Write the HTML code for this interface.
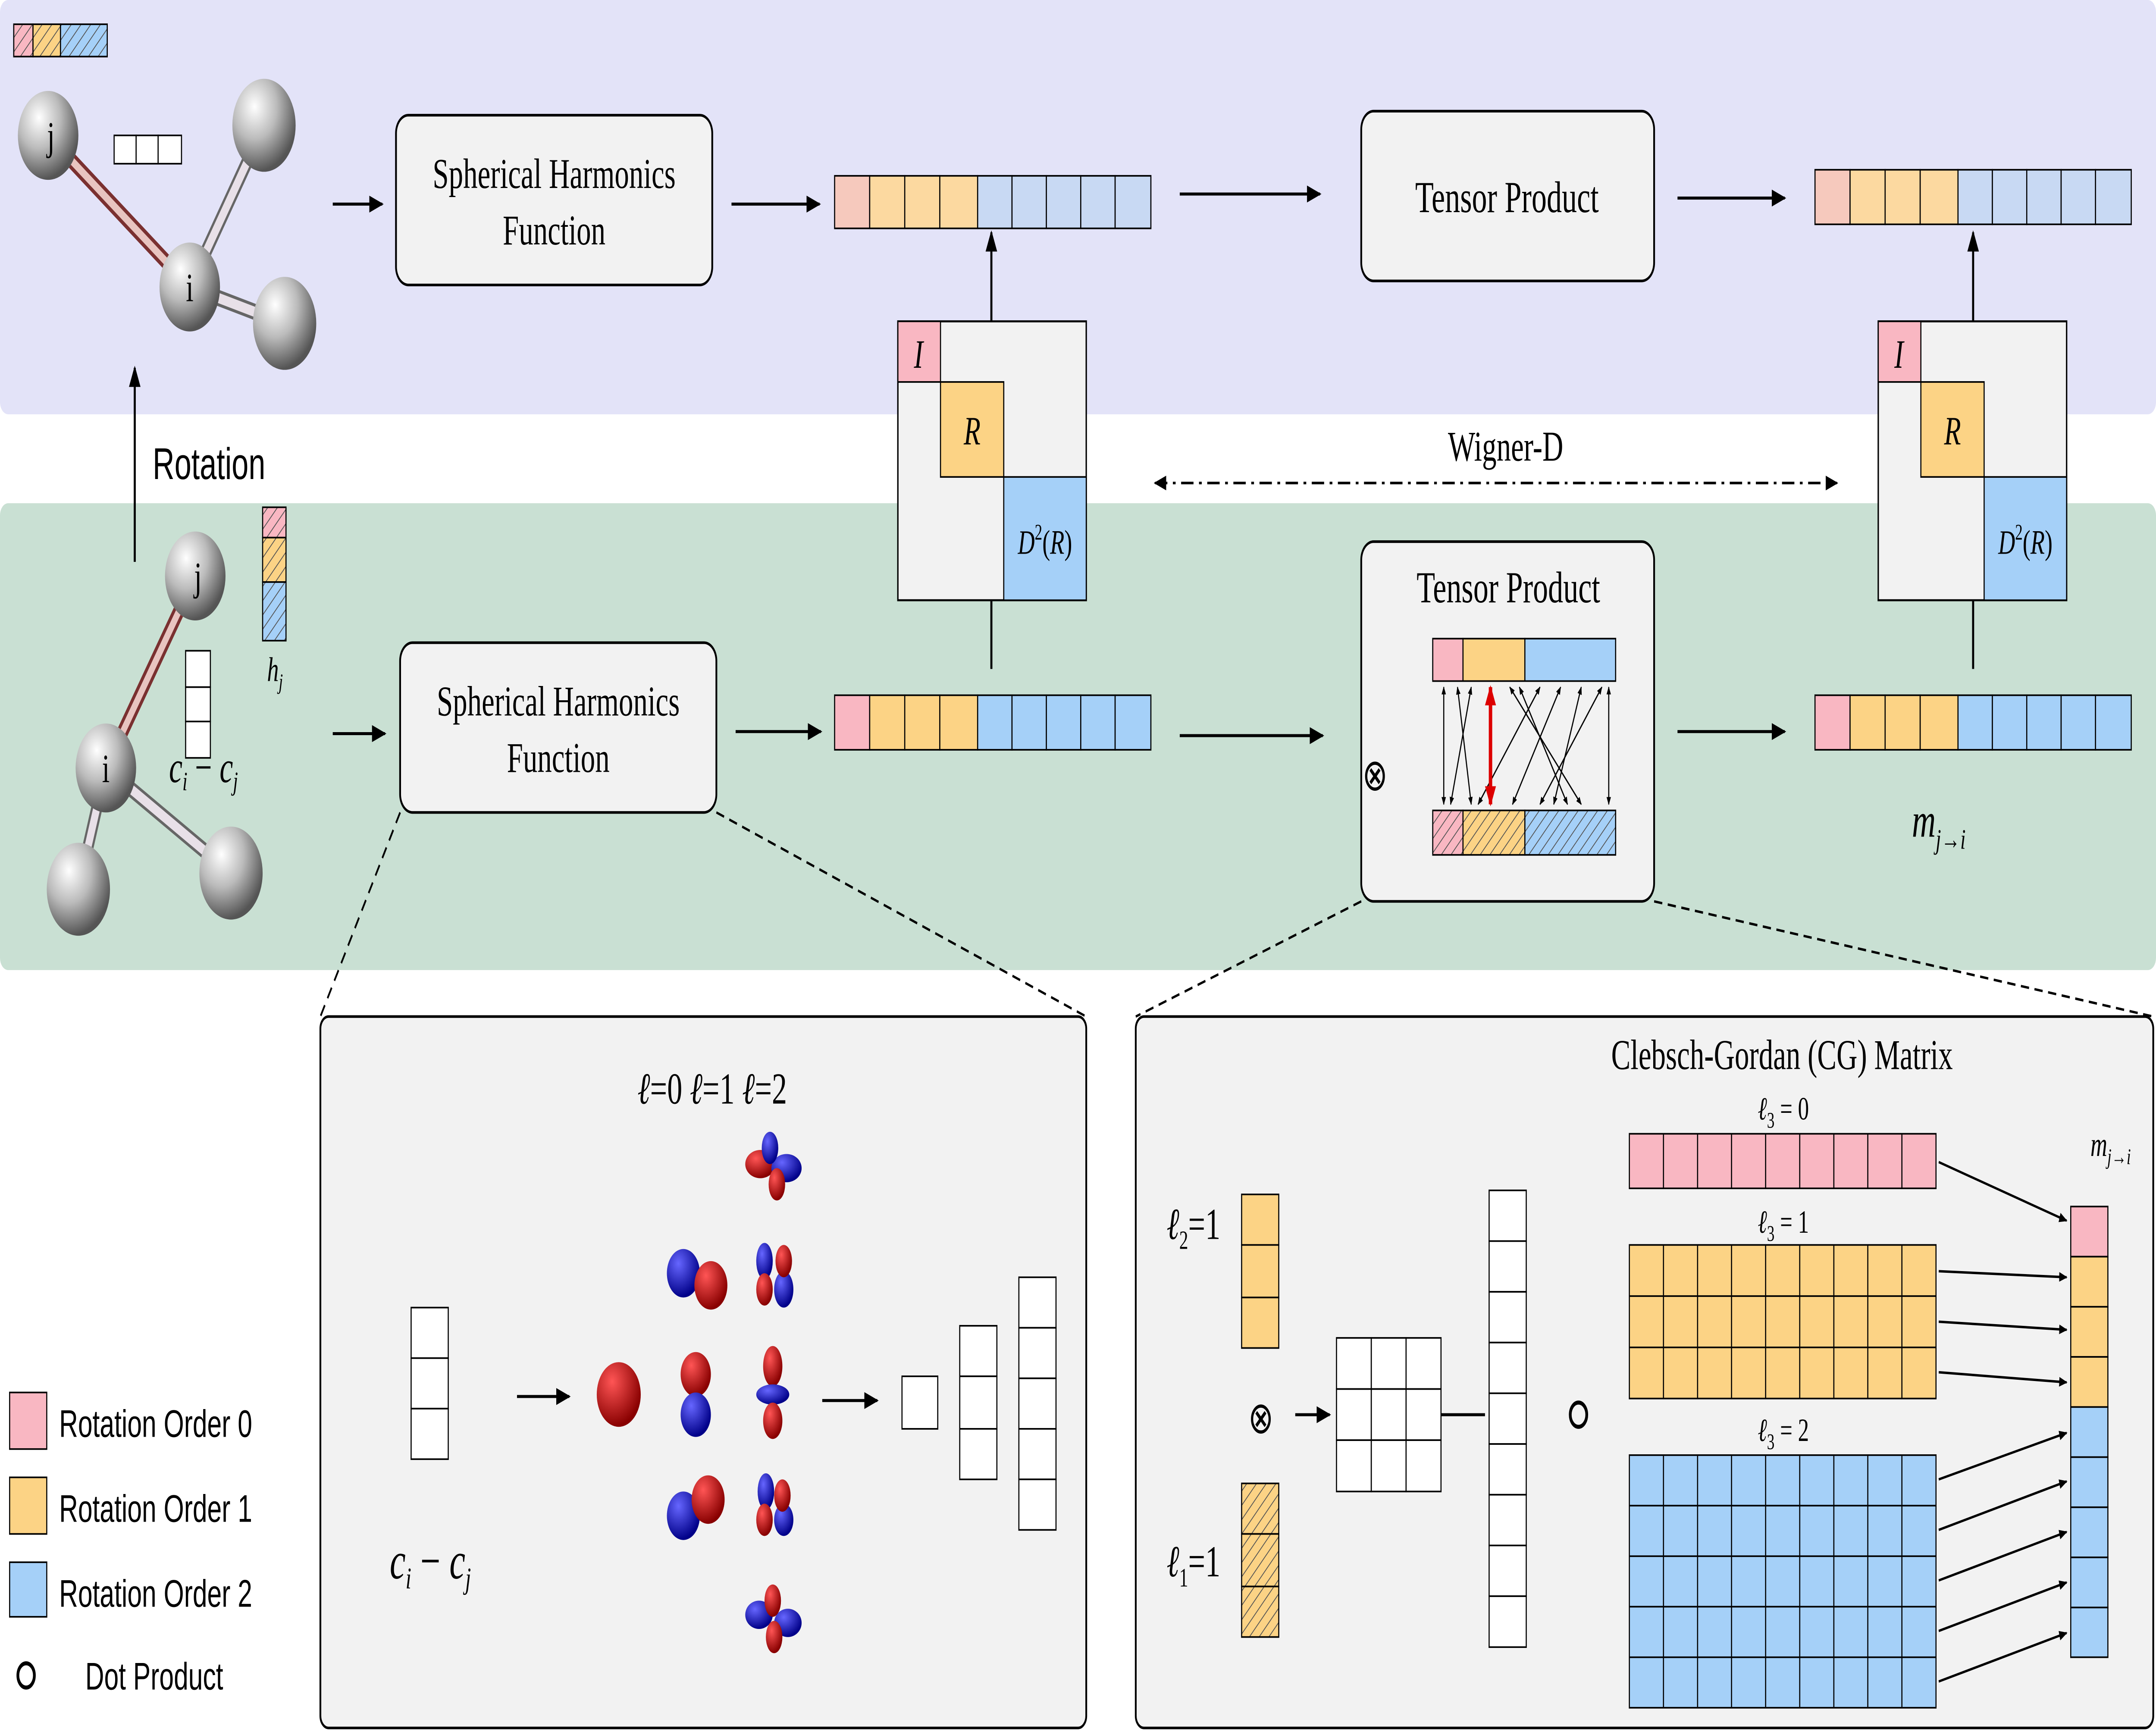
<!DOCTYPE html>
<html><head><meta charset="utf-8"><style>
html,body{margin:0;padding:0;background:#fff;width:100vw;height:100vh;overflow:hidden;}
svg{display:block;width:100vw;height:100vh;}
text{font-family:"Liberation Serif",serif;}
.s{font-family:"Liberation Sans",sans-serif;}
</style></head><body>
<svg viewBox="0 0 1568 857" preserveAspectRatio="none" xmlns="http://www.w3.org/2000/svg">
<defs>
<marker id="ah" viewBox="0 0 10 10" refX="9" refY="5" markerWidth="7" markerHeight="7" orient="auto-start-reverse"><path d="M0,1 L10,5 L0,9 z" fill="#000"/></marker>
<marker id="sm" viewBox="0 0 10 10" refX="9" refY="5" markerWidth="5" markerHeight="5" orient="auto-start-reverse"><path d="M0,1 L10,5 L0,9 z" fill="#000"/></marker>
<marker id="rd" viewBox="0 0 10 10" refX="9" refY="5" markerWidth="4" markerHeight="4" orient="auto-start-reverse"><path d="M0,1 L10,5 L0,9 z" fill="#d00"/></marker>
<pattern id="hp" width="5" height="5" patternUnits="userSpaceOnUse" patternTransform="rotate(45)"><rect width="5" height="5" fill="#f9b7c2"/><line x1="0" y1="0" x2="0" y2="5" stroke="#555" stroke-width="1"/></pattern>
<pattern id="ho" width="5" height="5" patternUnits="userSpaceOnUse" patternTransform="rotate(45)"><rect width="5" height="5" fill="#fcd385"/><line x1="0" y1="0" x2="0" y2="5" stroke="#555" stroke-width="1"/></pattern>
<pattern id="hb" width="5" height="5" patternUnits="userSpaceOnUse" patternTransform="rotate(45)"><rect width="5" height="5" fill="#a5d0f8"/><line x1="0" y1="0" x2="0" y2="5" stroke="#555" stroke-width="1"/></pattern>
<radialGradient id="atom" cx="0.35" cy="0.3" r="0.7"><stop offset="0" stop-color="#fff"/><stop offset="0.5" stop-color="#bbb"/><stop offset="1" stop-color="#555"/></radialGradient>
<radialGradient id="red" cx="0.35" cy="0.3" r="0.7"><stop offset="0" stop-color="#f55"/><stop offset="1" stop-color="#800"/></radialGradient>
<radialGradient id="blu" cx="0.35" cy="0.3" r="0.7"><stop offset="0" stop-color="#66f"/><stop offset="1" stop-color="#008"/></radialGradient>
</defs>

<rect x="0" y="0" width="1568" height="205" fill="#e3e3f8" rx="6"/>
<rect x="0" y="249" width="1568" height="231" fill="#c9e0d3" rx="6"/>

<line x1="35" y1="67" x2="138" y2="142" stroke="#7a3030" stroke-width="8"/>
<line x1="35" y1="67" x2="138" y2="142" stroke="#e8c4c0" stroke-width="4"/>
<line x1="138" y1="142" x2="192" y2="62" stroke="#666" stroke-width="8"/>
<line x1="138" y1="142" x2="192" y2="62" stroke="#e8e0e8" stroke-width="5"/>
<line x1="138" y1="142" x2="207" y2="160" stroke="#666" stroke-width="8"/>
<line x1="138" y1="142" x2="207" y2="160" stroke="#e8e0e8" stroke-width="5"/>
<circle cx="192" cy="62" r="23" fill="url(#atom)"/>
<circle cx="207" cy="160" r="23" fill="url(#atom)"/>
<circle cx="35" cy="67" r="22" fill="url(#atom)"/>
<circle cx="138" cy="142" r="22" fill="url(#atom)"/>
<text x="37" y="74" font-size="20" text-anchor="middle">j</text>
<text x="138" y="149" font-size="20" text-anchor="middle">i</text>
<rect x="10" y="12" width="14" height="16" fill="url(#hp)" stroke="#000" stroke-width="0.8"/>
<rect x="24" y="12" width="20" height="16" fill="url(#ho)" stroke="#000" stroke-width="0.8"/>
<rect x="44" y="12" width="34" height="16" fill="url(#hb)" stroke="#000" stroke-width="0.8"/>
<g fill="#fff" stroke="#000" stroke-width="0.8"><rect x="83" y="67" width="16" height="14"/><rect x="99" y="67" width="16" height="14"/><rect x="115" y="67" width="17" height="14"/></g>

<line x1="242" y1="101" x2="278" y2="101" stroke="#000" stroke-width="1.5" marker-end="url(#ah)"/>
<rect x="288" y="57" width="230" height="84" rx="9" fill="#f2f2f2" stroke="#000" stroke-width="1.3"/>
<text x="403" y="93" font-size="21" text-anchor="middle">Spherical Harmonics</text>
<text x="403" y="121" font-size="21" text-anchor="middle">Function</text>
<line x1="532" y1="101" x2="596" y2="101" stroke="#000" stroke-width="1.5" marker-end="url(#ah)"/>
<g stroke="#000" stroke-width="0.8">
<rect x="607" y="87" width="25.5" height="26" fill="#f6c9bd"/>
<rect x="632.5" y="87" width="25.5" height="26" fill="#fcd9a0"/><rect x="658" y="87" width="25.5" height="26" fill="#fcd9a0"/><rect x="683.5" y="87" width="27.5" height="26" fill="#fcd9a0"/>
<rect x="711" y="87" width="25" height="26" fill="#c8d9f3"/><rect x="736" y="87" width="25" height="26" fill="#c8d9f3"/><rect x="761" y="87" width="25" height="26" fill="#c8d9f3"/><rect x="786" y="87" width="25" height="26" fill="#c8d9f3"/><rect x="811" y="87" width="26" height="26" fill="#c8d9f3"/>
</g>
<line x1="858" y1="96" x2="960" y2="96" stroke="#000" stroke-width="1.5" marker-end="url(#ah)"/>
<rect x="990" y="55" width="213" height="84" rx="9" fill="#f2f2f2" stroke="#000" stroke-width="1.3"/>
<text x="1096" y="105" font-size="22" text-anchor="middle">Tensor Product</text>
<line x1="1220" y1="98" x2="1298" y2="98" stroke="#000" stroke-width="1.5" marker-end="url(#ah)"/>
<g stroke="#000" stroke-width="0.8">
<rect x="1320" y="84" width="25.5" height="27" fill="#f6c9bd"/>
<rect x="1345.5" y="84" width="25.5" height="27" fill="#fcd9a0"/><rect x="1371" y="84" width="25.5" height="27" fill="#fcd9a0"/><rect x="1396.5" y="84" width="27.5" height="27" fill="#fcd9a0"/>
<rect x="1424" y="84" width="25" height="27" fill="#c8d9f3"/><rect x="1449" y="84" width="25" height="27" fill="#c8d9f3"/><rect x="1474" y="84" width="25" height="27" fill="#c8d9f3"/><rect x="1499" y="84" width="25" height="27" fill="#c8d9f3"/><rect x="1524" y="84" width="26" height="27" fill="#c8d9f3"/>
</g>

<g>
<rect x="653" y="159" width="137" height="138" fill="#f2f2f2" stroke="#000" stroke-width="1"/>
<rect x="653" y="159" width="31" height="30" fill="#f9b7c2" stroke="#000" stroke-width="0.8"/>
<rect x="684" y="189" width="46" height="47" fill="#fcd385" stroke="#000" stroke-width="0.8"/>
<rect x="730" y="236" width="60" height="61" fill="#a5d0f8" stroke="#000" stroke-width="0.8"/>
<text x="668" y="182" font-size="20" font-style="italic" text-anchor="middle">I</text>
<text x="707" y="220" font-size="20" font-style="italic" text-anchor="middle">R</text>
<text x="760" y="274" font-size="17" text-anchor="middle"><tspan font-style="italic">D</tspan><tspan font-size="11" dy="-7">2</tspan><tspan dy="7">(</tspan><tspan font-style="italic">R</tspan>)</text>
</g>
<line x1="721" y1="159" x2="721" y2="115" stroke="#000" stroke-width="1.5" marker-end="url(#ah)"/>
<line x1="721" y1="297" x2="721" y2="331" stroke="#000" stroke-width="1.5"/>
<g>
<rect x="1366" y="159" width="137" height="138" fill="#f2f2f2" stroke="#000" stroke-width="1"/>
<rect x="1366" y="159" width="31" height="30" fill="#f9b7c2" stroke="#000" stroke-width="0.8"/>
<rect x="1397" y="189" width="46" height="47" fill="#fcd385" stroke="#000" stroke-width="0.8"/>
<rect x="1443" y="236" width="60" height="61" fill="#a5d0f8" stroke="#000" stroke-width="0.8"/>
<text x="1381" y="182" font-size="20" font-style="italic" text-anchor="middle">I</text>
<text x="1420" y="220" font-size="20" font-style="italic" text-anchor="middle">R</text>
<text x="1473" y="274" font-size="17" text-anchor="middle"><tspan font-style="italic">D</tspan><tspan font-size="11" dy="-7">2</tspan><tspan dy="7">(</tspan><tspan font-style="italic">R</tspan>)</text>
</g>
<line x1="1435" y1="159" x2="1435" y2="115" stroke="#000" stroke-width="1.5" marker-end="url(#ah)"/>
<line x1="1435" y1="297" x2="1435" y2="331" stroke="#000" stroke-width="1.5"/>

<line x1="840" y1="239" x2="1336" y2="239" stroke="#000" stroke-width="1.3" stroke-dasharray="9,4,2,4" marker-start="url(#ah)" marker-end="url(#ah)"/>
<text x="1095" y="228" font-size="21" text-anchor="middle">Wigner-D</text>

<line x1="98" y1="278" x2="98" y2="182" stroke="#000" stroke-width="1.5" marker-end="url(#ah)"/>
<text x="152" y="237" font-size="22" class="s" text-anchor="middle">Rotation</text>

<line x1="142" y1="285" x2="77" y2="380" stroke="#7a3030" stroke-width="8"/>
<line x1="142" y1="285" x2="77" y2="380" stroke="#e8c4c0" stroke-width="4"/>
<line x1="77" y1="380" x2="57" y2="440" stroke="#666" stroke-width="8"/>
<line x1="77" y1="380" x2="57" y2="440" stroke="#e8e0e8" stroke-width="5"/>
<line x1="77" y1="380" x2="168" y2="432" stroke="#666" stroke-width="8"/>
<line x1="77" y1="380" x2="168" y2="432" stroke="#e8e0e8" stroke-width="5"/>
<circle cx="57" cy="440" r="23" fill="url(#atom)"/>
<circle cx="168" cy="432" r="23" fill="url(#atom)"/>
<circle cx="142" cy="285" r="22" fill="url(#atom)"/>
<circle cx="77" cy="380" r="22" fill="url(#atom)"/>
<text x="144" y="292" font-size="20" text-anchor="middle">j</text>
<text x="77" y="387" font-size="20" text-anchor="middle">i</text>
<rect x="191" y="251" width="17" height="15" fill="url(#hp)" stroke="#000" stroke-width="0.8"/>
<rect x="191" y="266" width="17" height="22" fill="url(#ho)" stroke="#000" stroke-width="0.8"/>
<rect x="191" y="288" width="17" height="29" fill="url(#hb)" stroke="#000" stroke-width="0.8"/>
<text x="200" y="337" font-size="17" font-style="italic" text-anchor="middle">h<tspan font-size="11" dy="4">j</tspan></text>
<g fill="#fff" stroke="#000" stroke-width="0.8"><rect x="135" y="322" width="18" height="18"/><rect x="135" y="340" width="18" height="17"/><rect x="135" y="357" width="18" height="18"/></g>
<text x="148" y="387" font-size="22" font-style="italic" text-anchor="middle">c<tspan font-size="13" dy="4">i</tspan><tspan dy="-4" font-style="normal"> − </tspan>c<tspan font-size="13" dy="4">j</tspan></text>

<line x1="242" y1="363" x2="280" y2="363" stroke="#000" stroke-width="1.5" marker-end="url(#ah)"/>
<rect x="291" y="318" width="230" height="84" rx="9" fill="#f2f2f2" stroke="#000" stroke-width="1.3"/>
<text x="406" y="354" font-size="21" text-anchor="middle">Spherical Harmonics</text>
<text x="406" y="382" font-size="21" text-anchor="middle">Function</text>
<line x1="535" y1="362" x2="597" y2="362" stroke="#000" stroke-width="1.5" marker-end="url(#ah)"/>
<g stroke="#000" stroke-width="0.8">
<rect x="607" y="344" width="25.5" height="27" fill="#f9b7c2"/>
<rect x="632.5" y="344" width="25.5" height="27" fill="#fcd385"/><rect x="658" y="344" width="25.5" height="27" fill="#fcd385"/><rect x="683.5" y="344" width="27.5" height="27" fill="#fcd385"/>
<rect x="711" y="344" width="25" height="27" fill="#a5d0f8"/><rect x="736" y="344" width="25" height="27" fill="#a5d0f8"/><rect x="761" y="344" width="25" height="27" fill="#a5d0f8"/><rect x="786" y="344" width="25" height="27" fill="#a5d0f8"/><rect x="811" y="344" width="26" height="27" fill="#a5d0f8"/>
</g>
<line x1="858" y1="364" x2="962" y2="364" stroke="#000" stroke-width="1.5" marker-end="url(#ah)"/>
<rect x="990" y="268" width="213" height="178" rx="9" fill="#f2f2f2" stroke="#000" stroke-width="1.3"/>
<text x="1097" y="298" font-size="22" text-anchor="middle">Tensor Product</text>
<g stroke="#000" stroke-width="0.8">
<rect x="1042" y="316" width="22" height="21" fill="#f9b7c2"/>
<rect x="1064" y="316" width="45" height="21" fill="#fcd385"/>
<rect x="1109" y="316" width="66" height="21" fill="#a5d0f8"/>
<rect x="1042" y="401" width="22" height="22" fill="url(#hp)"/>
<rect x="1064" y="401" width="45" height="22" fill="url(#ho)"/>
<rect x="1109" y="401" width="66" height="22" fill="url(#hb)"/>
</g>
<text x="1000" y="391" font-size="22" text-anchor="middle" font-family="DejaVu Sans">⊗</text>
<g stroke="#000" stroke-width="0.8" marker-start="url(#sm)" marker-end="url(#sm)">
<line x1="1050" y1="340" x2="1050" y2="398"/>
<line x1="1060" y1="340" x2="1070" y2="398"/>
<line x1="1070" y1="340" x2="1055" y2="398"/>
<line x1="1098" y1="340" x2="1150" y2="398"/>
<line x1="1120" y1="340" x2="1075" y2="398"/>
<line x1="1135" y1="340" x2="1100" y2="398"/>
<line x1="1150" y1="340" x2="1130" y2="398"/>
<line x1="1165" y1="340" x2="1120" y2="398"/>
<line x1="1105" y1="340" x2="1140" y2="398"/>
<line x1="1170" y1="340" x2="1170" y2="398"/>
</g>
<line x1="1084" y1="340" x2="1084" y2="398" stroke="#d00" stroke-width="2.5" marker-start="url(#rd)" marker-end="url(#rd)"/>
<line x1="1220" y1="362" x2="1298" y2="362" stroke="#000" stroke-width="1.5" marker-end="url(#ah)"/>
<g stroke="#000" stroke-width="0.8">
<rect x="1320" y="344" width="25.5" height="27" fill="#f9b7c2"/>
<rect x="1345.5" y="344" width="25.5" height="27" fill="#fcd385"/><rect x="1371" y="344" width="25.5" height="27" fill="#fcd385"/><rect x="1396.5" y="344" width="27.5" height="27" fill="#fcd385"/>
<rect x="1424" y="344" width="25" height="27" fill="#a5d0f8"/><rect x="1449" y="344" width="25" height="27" fill="#a5d0f8"/><rect x="1474" y="344" width="25" height="27" fill="#a5d0f8"/><rect x="1499" y="344" width="25" height="27" fill="#a5d0f8"/><rect x="1524" y="344" width="26" height="27" fill="#a5d0f8"/>
</g>
<text x="1410" y="414" font-size="24" font-style="italic" text-anchor="middle">m<tspan font-size="14" dy="6">j→i</tspan></text>

<g stroke="#000" stroke-width="1.2" stroke-dasharray="6,4">
<line x1="291" y1="402" x2="233" y2="503"/>
<line x1="521" y1="402" x2="790" y2="503"/>
<line x1="990" y1="446" x2="826" y2="503"/>
<line x1="1203" y1="446" x2="1566" y2="503"/>
</g>

<rect x="7" y="689" width="27" height="28" fill="#f9b7c2" stroke="#000" stroke-width="0.8"/>
<rect x="7" y="731" width="27" height="28" fill="#fcd385" stroke="#000" stroke-width="0.8"/>
<rect x="7" y="773" width="27" height="27" fill="#a5d0f8" stroke="#000" stroke-width="0.8"/>
<circle cx="19" cy="829" r="6" fill="none" stroke="#000" stroke-width="2"/>
<g font-size="19"><text x="43" y="711" class="s">Rotation Order 0</text><text x="43" y="753" class="s">Rotation Order 1</text><text x="43" y="795" class="s">Rotation Order 2</text><text x="62" y="836" class="s">Dot Product</text></g>

<rect x="233" y="503" width="557" height="352" rx="6" fill="#f2f2f2" stroke="#000" stroke-width="1.3"/>
<text x="518" y="546" font-size="22" text-anchor="middle"><tspan font-style="italic">ℓ</tspan>=0 <tspan font-style="italic">ℓ</tspan>=1 <tspan font-style="italic">ℓ</tspan>=2</text>
<g fill="#fff" stroke="#000" stroke-width="0.8"><rect x="299" y="647" width="27" height="25"/><rect x="299" y="672" width="27" height="25"/><rect x="299" y="697" width="27" height="25"/></g>
<text x="313" y="781" font-size="26" font-style="italic" text-anchor="middle">c<tspan font-size="15" dy="5">i</tspan><tspan dy="-5" font-style="normal"> − </tspan>c<tspan font-size="15" dy="5">j</tspan></text>
<line x1="376" y1="691" x2="414" y2="691" stroke="#000" stroke-width="1.5" marker-end="url(#ah)"/>
<circle cx="450" cy="690" r="16" fill="url(#red)"/>
<circle cx="497" cy="630" r="12" fill="url(#blu)"/><circle cx="517" cy="636" r="12" fill="url(#red)"/>
<circle cx="506" cy="680" r="11" fill="url(#red)"/><circle cx="506" cy="700" r="11" fill="url(#blu)"/>
<circle cx="497" cy="750" r="12" fill="url(#blu)"/><circle cx="515" cy="742" r="12" fill="url(#red)"/>
<g>
<ellipse cx="553" cy="576" rx="11" ry="7" fill="url(#red)"/><ellipse cx="572" cy="578" rx="11" ry="7" fill="url(#blu)"/><ellipse cx="560" cy="568" rx="6" ry="8" fill="url(#blu)"/><ellipse cx="565" cy="586" rx="6" ry="8" fill="url(#red)"/>
<ellipse cx="556" cy="624" rx="6" ry="9" fill="url(#blu)"/><ellipse cx="570" cy="638" rx="7" ry="9" fill="url(#blu)"/><ellipse cx="556" cy="638" rx="6" ry="8" fill="url(#red)"/><ellipse cx="570" cy="624" rx="6" ry="8" fill="url(#red)"/>
<ellipse cx="562" cy="676" rx="7" ry="10" fill="url(#red)"/><ellipse cx="562" cy="690" rx="12" ry="5" fill="url(#blu)"/><ellipse cx="562" cy="703" rx="7" ry="9" fill="url(#red)"/>
<ellipse cx="557" cy="738" rx="6" ry="9" fill="url(#blu)"/><ellipse cx="570" cy="752" rx="7" ry="8" fill="url(#blu)"/><ellipse cx="556" cy="752" rx="6" ry="8" fill="url(#red)"/><ellipse cx="569" cy="740" rx="6" ry="8" fill="url(#red)"/>
<ellipse cx="552" cy="799" rx="10" ry="7" fill="url(#blu)"/><ellipse cx="573" cy="803" rx="10" ry="7" fill="url(#blu)"/><ellipse cx="562" cy="792" rx="6" ry="8" fill="url(#red)"/><ellipse cx="563" cy="810" rx="6" ry="8" fill="url(#red)"/>
</g>
<line x1="598" y1="693" x2="638" y2="693" stroke="#000" stroke-width="1.5" marker-end="url(#ah)"/>
<g fill="#fff" stroke="#000" stroke-width="0.8">
<rect x="656" y="681" width="26" height="26"/>
<rect x="698" y="656" width="27" height="25"/><rect x="698" y="681" width="27" height="26"/><rect x="698" y="707" width="27" height="25"/>
<rect x="741" y="632" width="27" height="25"/><rect x="741" y="657" width="27" height="25"/><rect x="741" y="682" width="27" height="25"/><rect x="741" y="707" width="27" height="25"/><rect x="741" y="732" width="27" height="25"/>
</g>

<rect x="826" y="503" width="740" height="352" rx="6" fill="#f2f2f2" stroke="#000" stroke-width="1.3"/>
<text x="1296" y="529" font-size="21" text-anchor="middle">Clebsch-Gordan (CG) Matrix</text>
<text x="868" y="613" font-size="22" text-anchor="middle"><tspan font-style="italic">ℓ</tspan><tspan font-size="13" dy="5">2</tspan><tspan dy="-5">=1</tspan></text>
<g stroke="#000" stroke-width="0.8" fill="#fcd385"><rect x="903" y="591" width="27" height="25"/><rect x="903" y="616" width="27" height="26"/><rect x="903" y="642" width="27" height="25"/></g>
<text x="917" y="709" font-size="22" text-anchor="middle" font-family="DejaVu Sans">⊗</text>
<text x="868" y="780" font-size="22" text-anchor="middle"><tspan font-style="italic">ℓ</tspan><tspan font-size="13" dy="5">1</tspan><tspan dy="-5">=1</tspan></text>
<g stroke="#000" stroke-width="0.8" fill="url(#ho)"><rect x="903" y="734" width="27" height="25"/><rect x="903" y="759" width="27" height="26"/><rect x="903" y="785" width="27" height="25"/></g>
<line x1="942" y1="700" x2="967" y2="700" stroke="#000" stroke-width="1.5" marker-end="url(#ah)"/>
<g fill="#fff" stroke="#000" stroke-width="0.8">
<rect x="972" y="662" width="25.3" height="25.3"/><rect x="997.3" y="662" width="25.3" height="25.3"/><rect x="1022.6" y="662" width="25.4" height="25.3"/>
<rect x="972" y="687.3" width="25.3" height="25.3"/><rect x="997.3" y="687.3" width="25.3" height="25.3"/><rect x="1022.6" y="687.3" width="25.4" height="25.3"/>
<rect x="972" y="712.6" width="25.3" height="25.4"/><rect x="997.3" y="712.6" width="25.3" height="25.4"/><rect x="1022.6" y="712.6" width="25.4" height="25.4"/>
</g>
<line x1="1048" y1="700" x2="1080" y2="700" stroke="#000" stroke-width="1.5"/>
<g fill="#fff" stroke="#000" stroke-width="0.8">
<rect x="1083" y="589" width="27" height="25.1"/><rect x="1083" y="614.1" width="27" height="25.1"/><rect x="1083" y="639.2" width="27" height="25.1"/><rect x="1083" y="664.3" width="27" height="25.1"/><rect x="1083" y="689.4" width="27" height="25.1"/><rect x="1083" y="714.5" width="27" height="25.1"/><rect x="1083" y="739.6" width="27" height="25.1"/><rect x="1083" y="764.7" width="27" height="25.1"/><rect x="1083" y="789.8" width="27" height="25.2"/>
</g>
<circle cx="1148" cy="700" r="6" fill="none" stroke="#000" stroke-width="2"/>
<text x="1297" y="554" font-size="16" text-anchor="middle"><tspan font-style="italic">ℓ</tspan><tspan font-size="11" dy="4">3</tspan><tspan dy="-4"> = 0</tspan></text>
<text x="1297" y="610" font-size="16" text-anchor="middle"><tspan font-style="italic">ℓ</tspan><tspan font-size="11" dy="4">3</tspan><tspan dy="-4"> = 1</tspan></text>
<text x="1297" y="713" font-size="16" text-anchor="middle"><tspan font-style="italic">ℓ</tspan><tspan font-size="11" dy="4">3</tspan><tspan dy="-4"> = 2</tspan></text>
<rect x="1185" y="561" width="223" height="27" fill="#f9b7c2" stroke="#000" stroke-width="0.8"/>
<rect x="1185" y="616" width="223" height="76" fill="#fcd385" stroke="#000" stroke-width="0.8"/>
<rect x="1185" y="720" width="223" height="125" fill="#a5d0f8" stroke="#000" stroke-width="0.8"/>
<g stroke="#000" stroke-width="0.8">
<path d="M1209.8 561V588M1234.6 561V588M1259.3 561V588M1284.1 561V588M1308.9 561V588M1333.7 561V588M1358.4 561V588M1383.2 561V588"/>
<path d="M1209.8 616V692M1234.6 616V692M1259.3 616V692M1284.1 616V692M1308.9 616V692M1333.7 616V692M1358.4 616V692M1383.2 616V692M1185 641.3H1408M1185 666.7H1408"/>
<path d="M1209.8 720V845M1234.6 720V845M1259.3 720V845M1284.1 720V845M1308.9 720V845M1333.7 720V845M1358.4 720V845M1383.2 720V845M1185 745H1408M1185 770H1408M1185 795H1408M1185 820H1408"/>
</g>
<text x="1535" y="572" font-size="17" font-style="italic" text-anchor="middle">m<tspan font-size="11" dy="4">j→i</tspan></text>
<g stroke="#000" stroke-width="0.8">
<rect x="1506" y="597" width="27" height="24.8" fill="#f9b7c2"/>
<rect x="1506" y="621.8" width="27" height="24.8" fill="#fcd385"/><rect x="1506" y="646.6" width="27" height="24.8" fill="#fcd385"/><rect x="1506" y="671.4" width="27" height="24.8" fill="#fcd385"/>
<rect x="1506" y="696.2" width="27" height="24.8" fill="#a5d0f8"/><rect x="1506" y="721" width="27" height="24.8" fill="#a5d0f8"/><rect x="1506" y="745.8" width="27" height="24.8" fill="#a5d0f8"/><rect x="1506" y="770.6" width="27" height="24.8" fill="#a5d0f8"/><rect x="1506" y="795.4" width="27" height="24.6" fill="#a5d0f8"/>
</g>
<g stroke="#000" stroke-width="1.2" marker-end="url(#sm)">
<line x1="1410" y1="575" x2="1503" y2="604"/>
<line x1="1410" y1="629" x2="1503" y2="632"/>
<line x1="1410" y1="654" x2="1503" y2="658"/>
<line x1="1410" y1="679" x2="1503" y2="684"/>
<line x1="1410" y1="732" x2="1503" y2="709"/>
<line x1="1410" y1="757" x2="1503" y2="733"/>
<line x1="1410" y1="782" x2="1503" y2="758"/>
<line x1="1410" y1="807" x2="1503" y2="783"/>
<line x1="1410" y1="832" x2="1503" y2="808"/>
</g>
</svg>
</body></html>
